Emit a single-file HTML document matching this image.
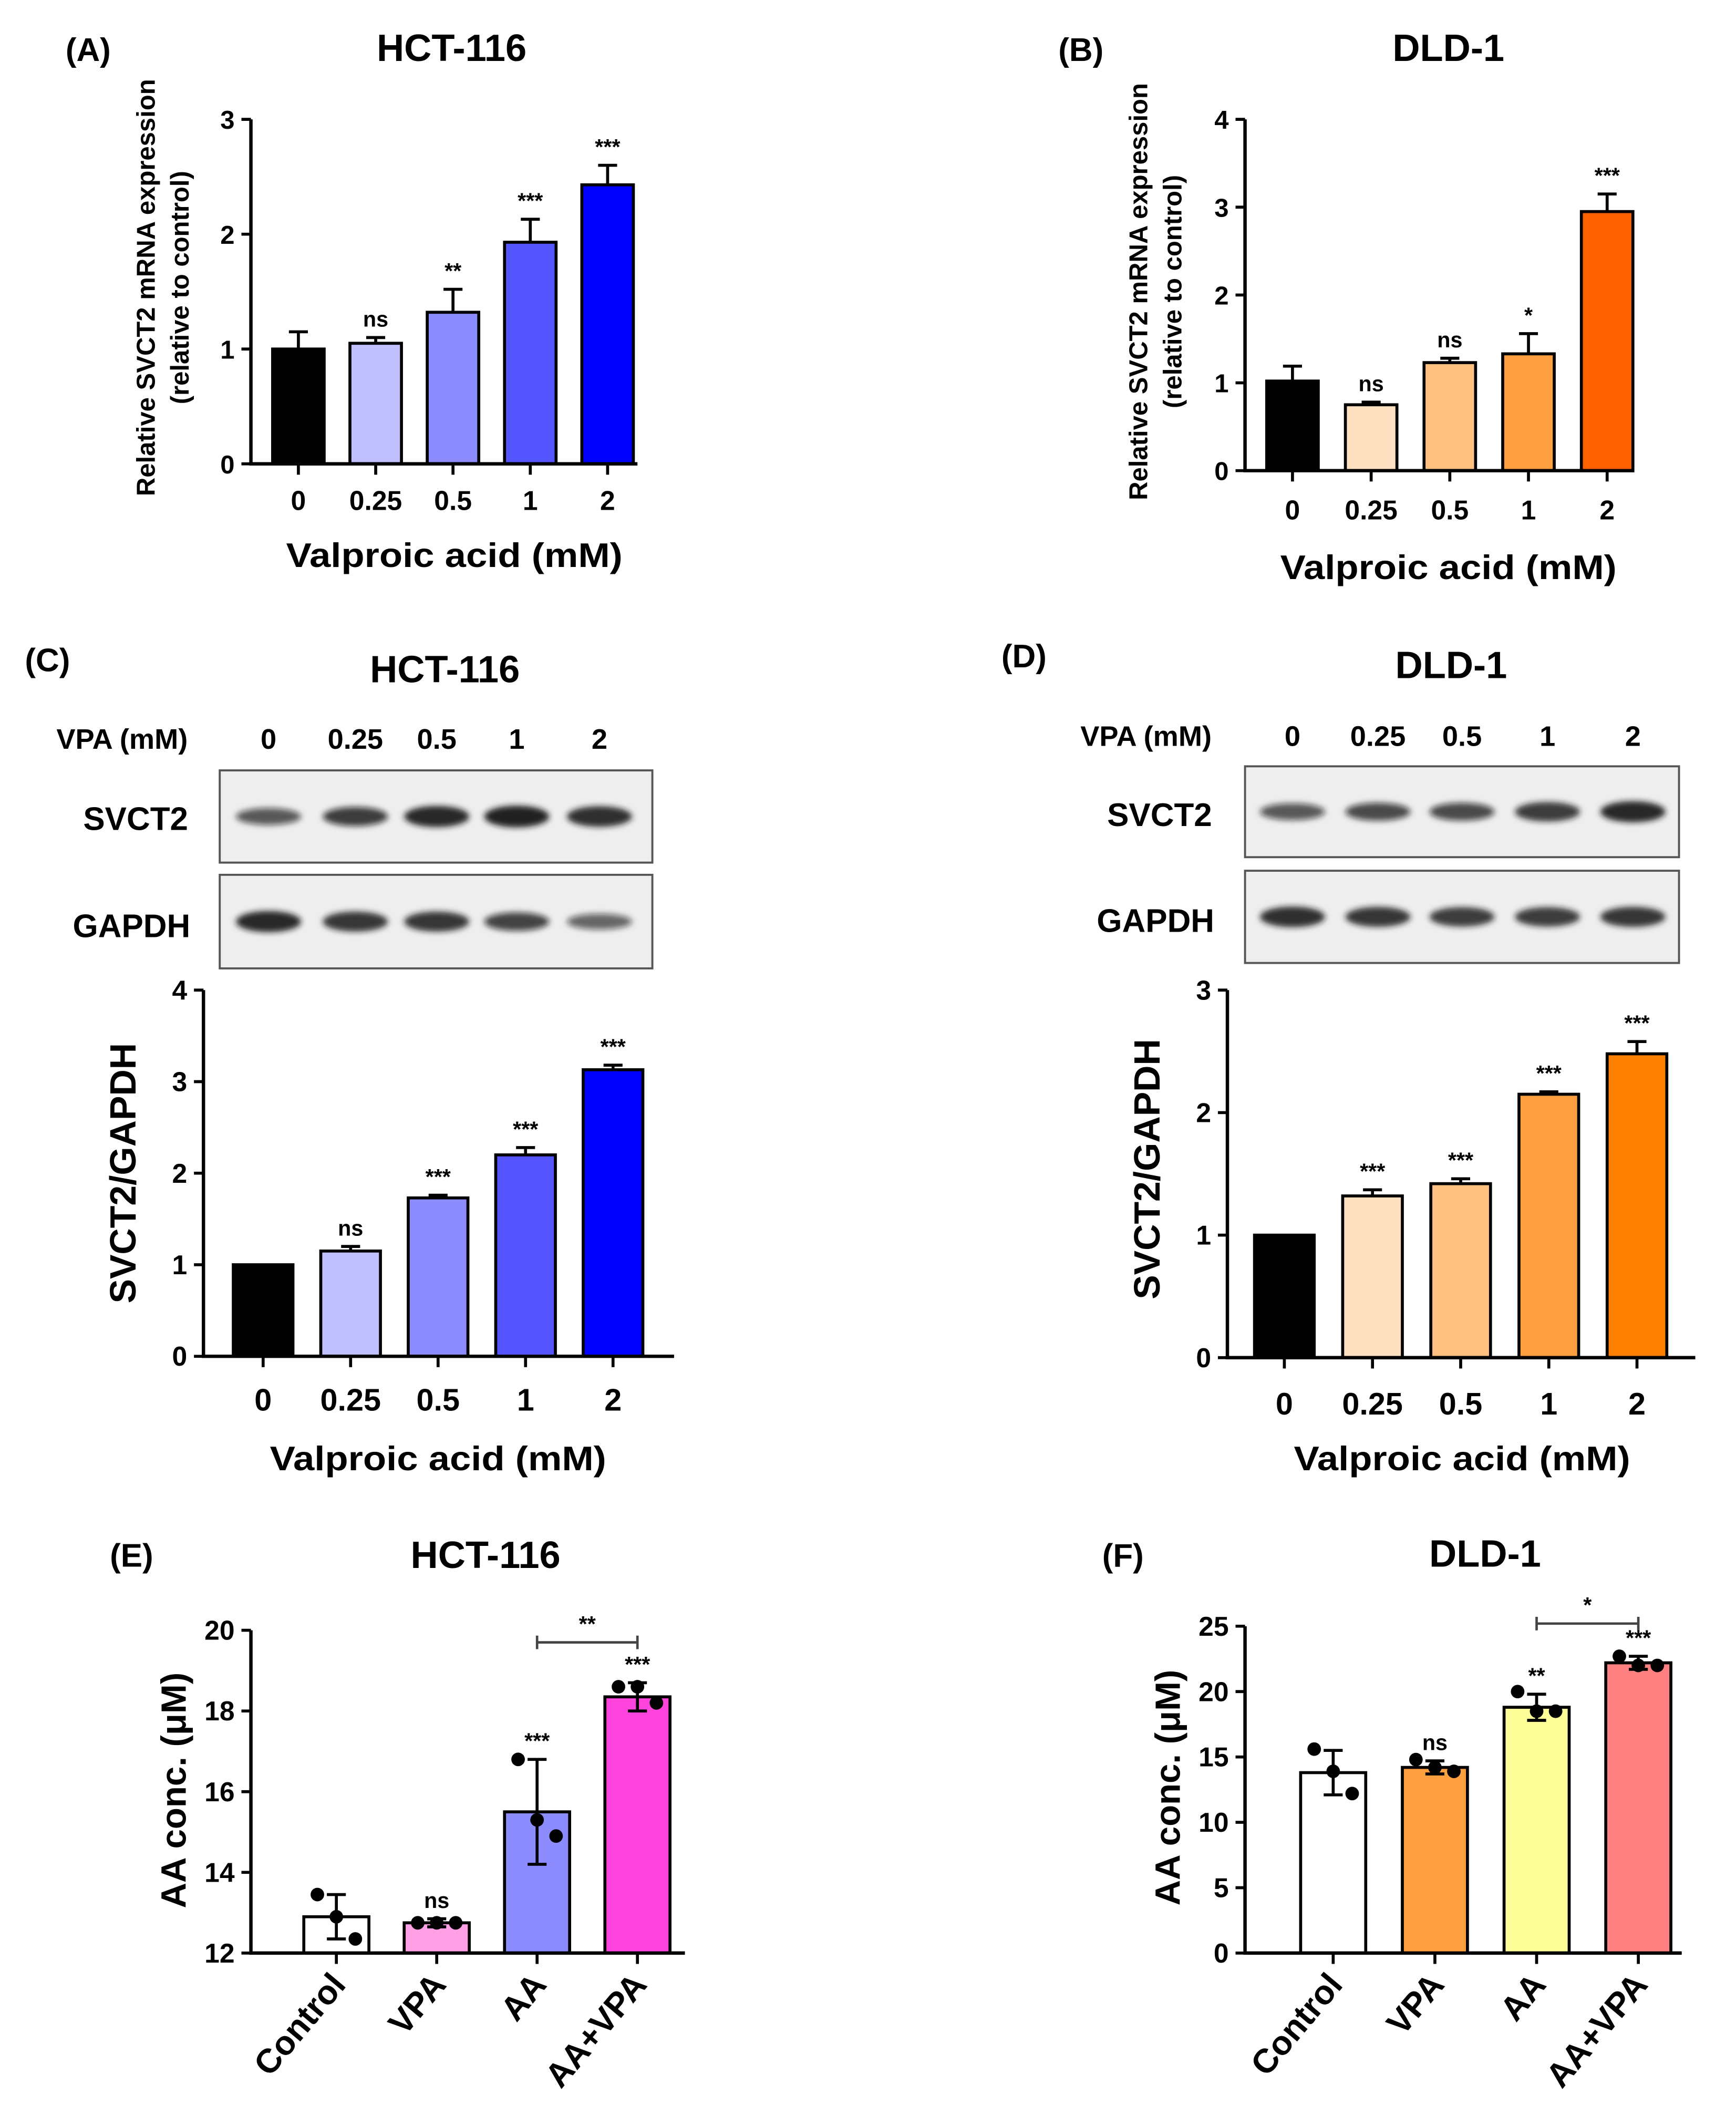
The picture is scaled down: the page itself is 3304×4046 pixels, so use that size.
<!DOCTYPE html>
<html><head><meta charset="utf-8"><style>
html,body{margin:0;padding:0;background:#fff}
svg{display:block}
text{font-family:"Liberation Sans",Arial,sans-serif;font-weight:bold;fill:#000}
</style></head><body>
<svg id="fig" width="3304" height="4046" viewBox="0 0 1280 1567.5" xmlns="http://www.w3.org/2000/svg">
<defs><filter id="blur" x="-20%" y="-50%" width="140%" height="200%"><feGaussianBlur stdDeviation="2.2"/></filter></defs>
</svg>
<script>
// ---- Data ----
const doseCats = ['0','0.25','0.5','1','2'];
const aValues = [1.0,1.05,1.32,1.93,2.43];
const aErrors = [0.15,0.05,0.2,0.2,0.17];
const aSig = ['','ns','**','***','***'];
const aTicks = [0,1,2,3];
const bValues = [1.02,0.75,1.23,1.33,2.95];
const bErrors = [0.17,0.03,0.05,0.23,0.2];
const bSig = ['','ns','ns','*','***'];
const bTicks = [0,1,2,3,4];
const cValues = [1.0,1.15,1.73,2.2,3.13];
const cErrors = [0,0.05,0.03,0.08,0.05];
const cSig = ['','ns','***','***','***'];
const cTicks = [0,1,2,3,4];
const dValues = [1.0,1.32,1.42,2.15,2.48];
const dErrors = [0,0.05,0.04,0.02,0.1];
const dSig = ['','***','***','***','***'];
const dTicks = [0,1,2,3];
const treatCats = ['Control','VPA','AA','AA+VPA'];
const eValues = [12.9,12.75,15.5,18.35];
const eErrors = [0.55,0.1,1.3,0.35];
const ePoints = [[13.45,12.9,12.35],[12.75,12.75,12.75],[16.8,15.3,14.9],[18.6,18.6,18.2]];
const eSig = ['','ns','***','***'];
const eTicks = [12,14,16,18,20];
const fValues = [13.8,14.2,18.8,22.2];
const fErrors = [1.7,0.5,1.0,0.5];
const fPoints = [[15.6,13.9,12.2],[14.8,14.2,13.9],[20.0,18.5,18.5],[22.7,22.0,22.0]];
const fSig = ['','ns','**','***'];
const fTicks = [0,5,10,15,20,25];
const cSvctBands = [0.55,0.75,0.95,1.0,0.9];
const cGapdhBands = [0.95,0.85,0.85,0.7,0.45];
const dSvctBands = [0.55,0.65,0.65,0.8,0.95];
const dGapdhBands = [0.9,0.85,0.8,0.8,0.85];

const svg = document.getElementById('fig');
const NS = 'http://www.w3.org/2000/svg';
function mk(tag, attrs, parent, txt){
  const e = document.createElementNS(NS, tag);
  for (const k in attrs) e.setAttribute(k, attrs[k]);
  if (txt !== undefined) e.textContent = txt;
  (parent || svg).appendChild(e);
  return e;
}

function chart(o){
  const g = mk('g', {});
  
  
  const ymin = o.ticks[0], ymax = o.ticks[o.ticks.length-1];
  const y = v => o.y0 - (v - ymin) / (ymax - ymin) * (o.y0 - o.y1);
  const x = i => o.x0 + o.first + i * o.step;
  o.values.forEach((v, i) => {
    const r = mk('rect', {x: x(i) - o.bw/2, y: y(v), width: o.bw, height: o.y0 - y(v), fill: o.colors[i], stroke: '#000', 'stroke-width': 2.2}, g);
    
    
    const e = o.errors[i];
    if (e > 0) {
      const lo = o.points ? y(v - e) : y(v);
      const ln = mk('path', {d: `M${x(i)} ${lo}V${y(v+e)}M${x(i)-7} ${y(v+e)}H${x(i)+7}` + (o.points ? `M${x(i)-7} ${y(v-e)}H${x(i)+7}` : ''), stroke: '#000', 'stroke-width': 2.2, fill: 'none'}, g);
      
      
    }
    if (o.points) {
      o.points[i].forEach((p, j) => {
        const c = mk('circle', {cx: x(i) + (j - 1) * 14 * (j === 1 ? 0 : 1), cy: y(p), r: 5, fill: '#000'}, g);
        
        
      });
    }
    if (o.sig[i]) {
      const s = mk('text', {x: x(i), y: y(v + e) - 8, 'text-anchor': 'middle', 'font-size': 16, 'font-weight': 'normal', fill: '#333'}, g, o.sig[i]);
      
      
    }
  });
  const ax = mk('path', {d: `M${o.x0} ${o.y1}V${o.y0}H${o.xEnd}`, stroke: '#000', 'stroke-width': 2.5, fill: 'none'}, g);
  
  
  o.ticks.forEach(t => {
    mk('line', {x1: o.x0 - 7, x2: o.x0, y1: y(t), y2: y(t), stroke: '#000', 'stroke-width': 2.2}, g);
    const tl = mk('text', {x: o.x0 - 12, y: y(t) + 7, 'text-anchor': 'end', 'font-size': o.tickFs}, g, t);
    
    
  });
  o.cats.forEach((c, i) => {
    mk('line', {x1: x(i), x2: x(i), y1: o.y0, y2: o.y0 + 8, stroke: '#000', 'stroke-width': 2.2}, g);
    let t;
    if (o.rot) {
      t = mk('text', {x: x(i) + 8, y: o.y0 + 24, 'text-anchor': 'end', 'font-size': 25, transform: `rotate(-50 ${x(i)+8} ${o.y0+24})`}, g, c);
    } else {
      t = mk('text', {x: x(i), y: o.y0 + o.catDy, 'text-anchor': 'middle', 'font-size': o.catFs}, g, c);
    }
    
    
  });
  if (o.xtitle) {
    const xt = mk('text', {x: o.xtx, y: o.xty, 'text-anchor': 'middle', 'font-size': 25, textLength: 248, lengthAdjust: 'spacingAndGlyphs'}, g, o.xtitle);
    
    
  }
  o.ytitle.forEach((line, k) => {
    const tx = o.ytx + k * o.ytGap;
    const yt = mk('text', {x: tx, y: o.yty, 'text-anchor': 'middle', 'font-size': o.ytFs, transform: `rotate(-90 ${tx} ${o.yty})`}, g, line);
    
    
  });
  if (o.bracket) {
    const [a, b, lv, lab] = o.bracket;
    const yy = y(lv);
    const br = mk('path', {d: `M${x(a)} ${yy-5}V${yy+5}M${x(a)} ${yy}H${x(b)}M${x(b)} ${yy-5}V${yy+5}`, stroke: '#444', 'stroke-width': 1.8, fill: 'none'}, g);
    
    
    mk('text', {x: (x(a)+x(b))/2, y: yy - 8, 'text-anchor': 'middle', 'font-size': 16, 'font-weight': 'normal', fill: '#333'}, g, lab);
  }
}

function label(x, y, t, fs, name, anchor){
  const e = mk('text', {x, y, 'font-size': fs, 'text-anchor': anchor || 'middle'}, svg, t);
  
  
}

function blot(x0, y0, w, h, bands, centers, name){
  const g = mk('g', {});
  
  
  mk('rect', {x: x0, y: y0, width: w, height: h, fill: '#eeeeee', stroke: '#555', 'stroke-width': 1.5}, g);
  bands.forEach((b, i) => {
    const el = mk('ellipse', {cx: centers[i], cy: y0 + h/2, rx: 24, ry: 4 + 4*b, fill: `rgba(20,20,20,${0.35 + 0.6*b})`, filter: 'url(#blur)'}, g);
    
    
  });
}

label(65, 45, '(A)', 24, 'panel-label-a');
label(333, 45, 'HCT-116', 28, 'title-a');
label(797, 45, '(B)', 24, 'panel-label-b');
label(1068, 45, 'DLD-1', 28, 'title-b');
label(35, 495, '(C)', 24, 'panel-label-c');
label(328, 503, 'HCT-116', 28, 'title-c');
label(755, 492, '(D)', 24, 'panel-label-d');
label(1070, 500, 'DLD-1', 28, 'title-d');
label(97, 1155, '(E)', 24, 'panel-label-e');
label(358, 1156, 'HCT-116', 28, 'title-e');
label(828, 1155, '(F)', 24, 'panel-label-f');
label(1095, 1155, 'DLD-1', 28, 'title-f');

chart({name:'chart-a', x0:185, xEnd:470, y0:342, y1:88, first:35, step:57, bw:38, ticks:aTicks, values:aValues, errors:aErrors, sig:aSig, cats:doseCats,
  colors:['#000','#c0c0ff','#8c8cff','#5555ff','#0000ff'], tickFs:19, catFs:20, catDy:34, xtitle:'Valproic acid (mM)', xtx:335, xty:418,
  ytitle:['Relative SVCT2 mRNA expression','(relative to control)'], ytx:114, ytGap:25, yty:212, ytFs:19});
chart({name:'chart-b', x0:918, xEnd:1205, y0:347, y1:88, first:35, step:58, bw:38, ticks:bTicks, values:bValues, errors:bErrors, sig:bSig, cats:doseCats,
  colors:['#000','#ffe0c0','#ffc080','#ffa040','#ff6000'], tickFs:19, catFs:20, catDy:36, xtitle:'Valproic acid (mM)', xtx:1068, xty:427,
  ytitle:['Relative SVCT2 mRNA expression','(relative to control)'], ytx:846, ytGap:25, yty:215, ytFs:19});

label(90, 552, 'VPA (mM)', 21, 'vpa-label-c');
[198,262,322,381,442].forEach((cx,i)=>label(cx, 552, doseCats[i], 21, 'lane-label'));
label(100, 612, 'SVCT2', 24, 'svct2-label-c');
label(97, 691, 'GAPDH', 24, 'gapdh-label-c');
blot(162, 568, 319, 68, cSvctBands, [198,262,322,381,442], 'svct2-blot-c');
blot(162, 645, 319, 69, cGapdhBands, [198,262,322,381,442], 'gapdh-blot-c');
label(845, 550, 'VPA (mM)', 21, 'vpa-label-d');
[953,1016,1078,1141,1204].forEach((cx,i)=>label(cx, 550, doseCats[i], 21, 'lane-label'));
label(855, 609, 'SVCT2', 24, 'svct2-label-d');
label(852, 687, 'GAPDH', 24, 'gapdh-label-d');
blot(918, 565, 320, 67, dSvctBands, [953,1016,1078,1141,1204], 'svct2-blot-d');
blot(918, 642, 320, 68, dGapdhBands, [953,1016,1078,1141,1204], 'gapdh-blot-d');

chart({name:'chart-c', x0:150, xEnd:497, y0:1000, y1:730, first:44, step:64.5, bw:44, ticks:cTicks, values:cValues, errors:cErrors, sig:cSig, cats:doseCats,
  colors:['#000','#c0c0ff','#8c8cff','#5555ff','#0000ff'], tickFs:20, catFs:23, catDy:40, xtitle:'Valproic acid (mM)', xtx:323, xty:1084,
  ytitle:['SVCT2/GAPDH'], ytx:100, ytGap:0, yty:865, ytFs:27});
chart({name:'chart-d', x0:905, xEnd:1250, y0:1001, y1:730, first:42, step:65, bw:44, ticks:dTicks, values:dValues, errors:dErrors, sig:dSig, cats:doseCats,
  colors:['#000','#ffe0c0','#ffc080','#ffa040','#ff8000'], tickFs:20, catFs:23, catDy:42, xtitle:'Valproic acid (mM)', xtx:1078, xty:1084,
  ytitle:['SVCT2/GAPDH'], ytx:855, ytGap:0, yty:862, ytFs:27});

chart({name:'chart-e', x0:185, xEnd:505, y0:1440, y1:1202, first:63, step:74, bw:48, ticks:eTicks, values:eValues, errors:eErrors, points:ePoints, sig:eSig, cats:treatCats,
  colors:['#fff','#ffa0e6','#8c8cff','#ff44dd'], tickFs:20, rot:true, ytitle:['AA conc. (μM)'], ytx:137, ytGap:0, yty:1320, ytFs:26,
  bracket:[2,3,19.7,'**']});
chart({name:'chart-f', x0:918, xEnd:1240, y0:1440, y1:1199, first:65, step:75, bw:48, ticks:fTicks, values:fValues, errors:fErrors, points:fPoints, sig:fSig, cats:treatCats,
  colors:['#fff','#ffa040','#ffff99','#ff8080'], tickFs:20, rot:true, ytitle:['AA conc. (μM)'], ytx:870, ytGap:0, yty:1318, ytFs:26,
  bracket:[2,3,25.2,'*']});
</script>
</body></html>
